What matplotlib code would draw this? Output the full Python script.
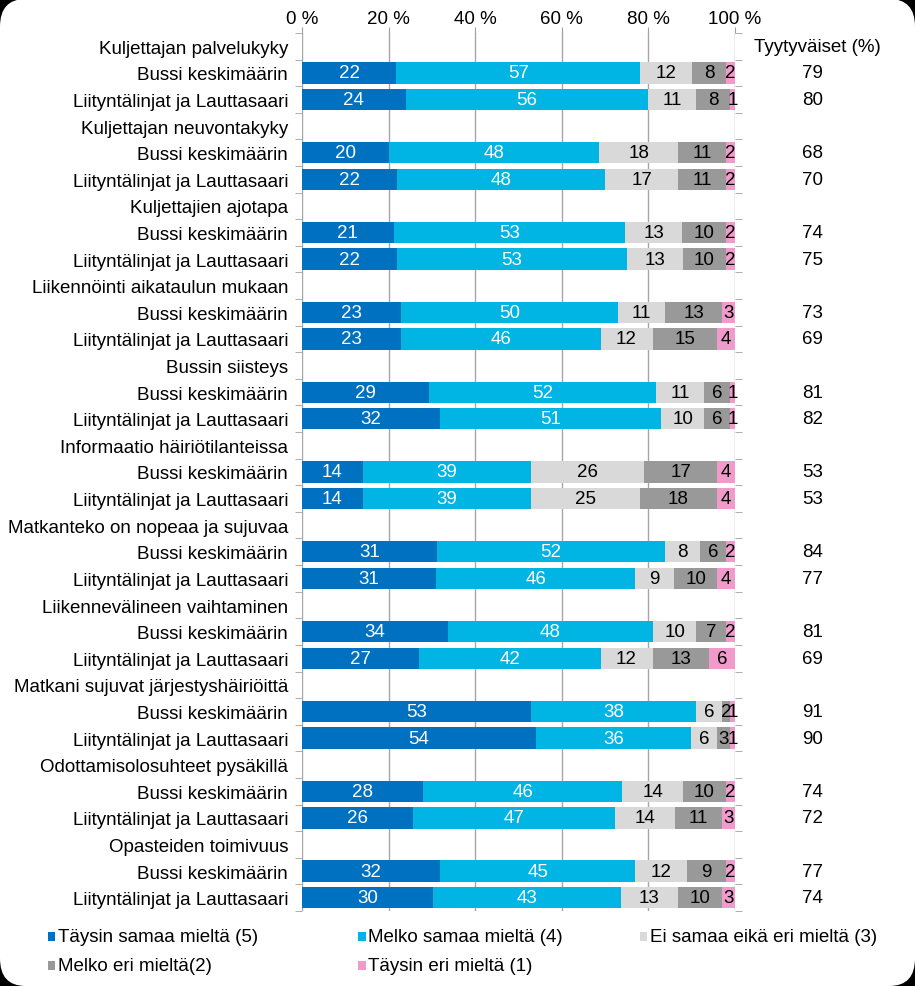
import numpy as np
import matplotlib.pyplot as plt
from matplotlib.patches import FancyBboxPatch, Rectangle

plt.rcParams['font.family'] = ['Liberation Sans', 'DejaVu Sans']

# data
topics = ["Kuljettajan palvelukyky", "Kuljettajan neuvontakyky", "Kuljettajien ajotapa",
          "Liikennöinti aikataulun mukaan", "Bussin siisteys", "Informaatio häiriötilanteissa",
          "Matkanteko on nopeaa ja sujuvaa", "Liikennevälineen vaihtaminen",
          "Matkani sujuvat järjestyshäiriöittä", "Odottamisolosuhteet pysäkillä",
          "Opasteiden toimivuus"]
sub_labels = ["Bussi keskimäärin", "Liityntälinjat ja Lauttasaari"]

bussi = [[22, 57, 12, 8, 2], [20, 48, 18, 11, 2], [21, 53, 13, 10, 2], [23, 50, 11, 13, 3],
         [29, 52, 11, 6, 1], [14, 39, 26, 17, 4], [31, 52, 8, 6, 2], [34, 48, 10, 7, 2],
         [53, 38, 6, 2, 1], [28, 46, 14, 10, 2], [32, 45, 12, 9, 2]]
liit = [[24, 56, 11, 8, 1], [22, 48, 17, 11, 2], [22, 53, 13, 10, 2], [23, 46, 12, 15, 4],
        [32, 51, 10, 6, 1], [14, 39, 25, 18, 4], [31, 46, 9, 10, 4], [27, 42, 12, 13, 6],
        [54, 36, 6, 3, 1], [26, 47, 14, 11, 3], [30, 43, 13, 10, 3]]
satisfied_bussi = [79, 68, 74, 73, 81, 53, 84, 81, 91, 74, 77]
satisfied_liit = [80, 70, 75, 69, 82, 53, 77, 69, 90, 72, 74]

categories = ["Täysin samaa mieltä (5)", "Melko samaa mieltä (4)", "Ei samaa eikä eri mieltä (3)",
              "Melko eri mieltä(2)", "Täysin eri mieltä (1)"]
colors = ["#0070C0", "#00B4E4", "#D9D9D9", "#999999", "#F09BCB"]
text_colors = ["white", "white", "black", "black", "black"]

FS = 13.5

# build rows: header, bussi, liit for each topic
row_labels, row_vals, row_sat = [], [], []
for i, t in enumerate(topics):
    row_labels += [t, sub_labels[0], sub_labels[1]]
    row_vals += [None, bussi[i], liit[i]]
    row_sat += [None, satisfied_bussi[i], satisfied_liit[i]]

n = len(row_labels)
ypos = np.arange(n)

fig = plt.figure(figsize=(9.15, 9.87), dpi=100)
fig.patch.set_facecolor("black")
bg = FancyBboxPatch((0.0, 0.0), 1.0, 1.0, boxstyle="round,pad=0,rounding_size=0.028",
                    transform=fig.transFigure, facecolor="white", edgecolor="none", zorder=-10)
fig.patches.append(bg)

ax = fig.add_axes([0.330, 0.076, 0.473, 0.8896])
ax.set_facecolor("none")

for y, vals in zip(ypos, row_vals):
    if vals is None:
        continue
    v = np.array(vals, dtype=float)
    w = v / v.sum() * 100
    left = 0.0
    for k in range(5):
        ax.barh(y, w[k], left=left, height=0.8, color=colors[k], zorder=3)
        ax.text(left + w[k] / 2, y, str(vals[k]), ha="center", va="center",
                color=text_colors[k], fontsize=FS, zorder=4)
        left += w[k]

ax.set_xlim(0, 100)
ax.set_ylim(n - 0.5, -0.5)
ax.set_xticks([0, 20, 40, 60, 80, 100])
ax.set_xticklabels(["0 %", "20 %", "40 %", "60 %", "80 %", "100 %"], fontsize=FS)
ax.xaxis.tick_top()
ax.tick_params(axis="x", length=4, color="#A0A0A0", pad=0.5)
ax.grid(axis="x", color="#A6A6A6", linewidth=1, zorder=0)

ax.set_yticks(ypos)
ax.set_yticklabels(row_labels, fontsize=FS)
ax.set_yticks(np.arange(n + 1) - 0.5, minor=True)
ax.tick_params(axis="y", which="major", length=0, pad=10)
ax.tick_params(axis="y", which="minor", length=5, color="#A0A0A0", left=True, right=True)
for s in ax.spines.values():
    s.set_visible(False)

# satisfied column
ax.text(1.19, 0, "Tyytyväiset (%)", transform=ax.get_yaxis_transform(),
        ha="center", va="center", fontsize=FS)
for y, s in zip(ypos, row_sat):
    if s is not None:
        ax.text(1.18, y, str(s), transform=ax.get_yaxis_transform(),
                ha="center", va="center", fontsize=FS)

# legend
leg_x = [0.052, 0.391, 0.699]
leg_y = [0.050, 0.021]
for k, cat in enumerate(categories):
    col, row = k % 3, k // 3
    x, y = leg_x[col], leg_y[row]
    fig.patches.append(Rectangle((x, y - 0.0045), 0.0085, 0.009, transform=fig.transFigure,
                                 facecolor=colors[k], edgecolor="none"))
    fig.text(x + 0.011, y, cat, ha="left", va="center", fontsize=FS)

fig.savefig("out.png", dpi=100, facecolor=fig.get_facecolor())
